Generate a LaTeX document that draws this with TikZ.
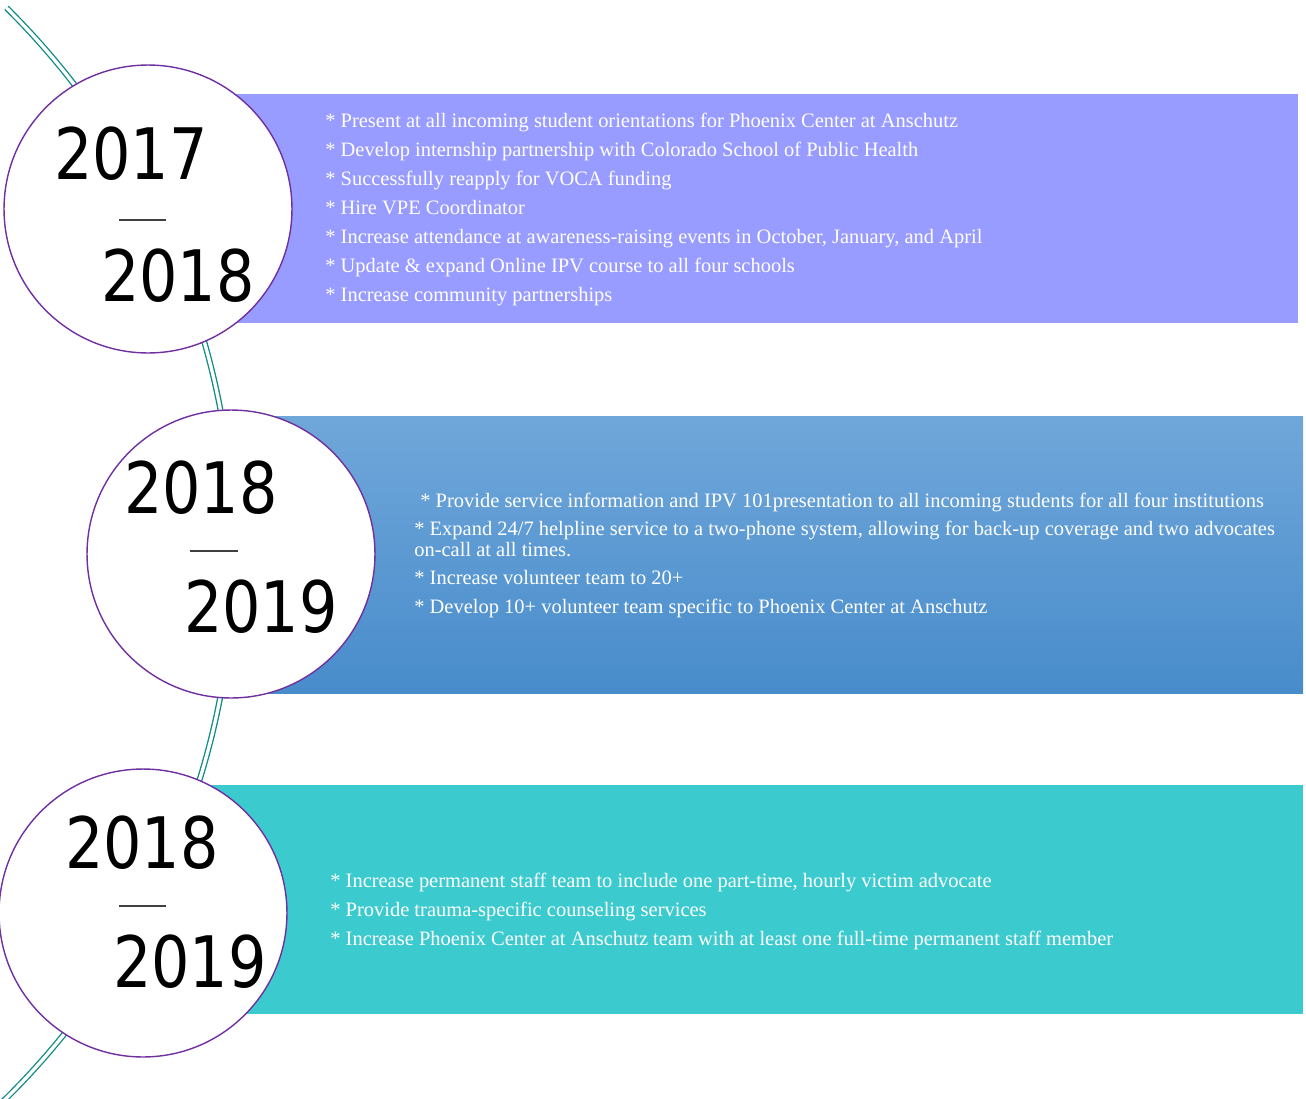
\documentclass[tikz,border=0pt]{standalone}
\usepackage{fontspec}
\setmainfont{Liberation Serif}
\newfontfamily\yearfont{DejaVu Sans}
\usetikzlibrary{positioning}
\definecolor{bandViolet}{HTML}{989BFF}
\definecolor{bandBlueTop}{HTML}{70A7DA}
\definecolor{bandBlueBot}{HTML}{488CCB}
\definecolor{bandTeal}{HTML}{3BCBCF}
\definecolor{ringPurple}{HTML}{7030A0}
\definecolor{lineTeal}{HTML}{0E8A88}

\begin{document}
\begin{tikzpicture}[
  x=0.02cm, y=-0.02cm,
  every node/.style={inner sep=0pt},
  yr/.style={circle,draw=ringPurple,line width=0.8pt,fill=white,minimum size=5.76cm},
  yrtxt/.style={font=\yearfont\fontsize{40.4}{40}\selectfont,text=black},
  item/.style={anchor=base west,text=white,font=\fontsize{11.65}{13}\selectfont},
  tl/.style={draw=lineTeal,line width=0.75pt,double=white,double distance=1.9pt},
  sep/.style={draw=black!75,line width=0.6pt},
]
  \useasboundingbox (0,0) rectangle (1306,1099);

  % bands
  \fill[bandViolet] (232,94) rectangle (1298,323);
  \shade[top color=bandBlueTop,bottom color=bandBlueBot] (265,416) rectangle (1303,693);
  \fill[bandTeal] (200,785) rectangle (1303,1014);

  % timeline
  \begin{scope}
    \clip (0,0) rectangle (1306,1099);
    \draw[tl] (-533,553) ++(-45.3:767) arc[start angle=45.3,end angle=-47,radius=15.34cm];
  \end{scope}

  % years
  \node[yr] (c1) at (148,209) {};
  \node[yr] (c2) at (231,554) {};
  \node[yr] (c3) at (143,913) {};

  \node[yrtxt] (y1a) at (131,154) {\scalebox{0.85}[1]{2017}};
  \node[yrtxt] (y1b) at (178,276) {\scalebox{0.85}[1]{2018}};
  \node[yrtxt] (y2a) at (201,488) {\scalebox{0.85}[1]{2018}};
  \node[yrtxt] (y2b) at (261,607) {\scalebox{0.85}[1]{2019}};
  \node[yrtxt] (y3a) at (142,843) {\scalebox{0.85}[1]{2018}};
  \node[yrtxt] (y3b) at (190,962) {\scalebox{0.85}[1]{2019}};

  \draw[sep] ([shift={(-29,11)}]c1.center) -- ++(47,0);
  \draw[sep] ([shift={(-41,-3)}]c2.center) -- ++(48,0);
  \draw[sep] ([shift={(-24,-7)}]c3.center) -- ++(47,0);

  % goals
  \foreach \t [count=\i from 0] in {
    {* Present at all incoming student orientations for Phoenix Center at Anschutz},
    {* Develop internship partnership with Colorado School of Public Health},
    {* Successfully reapply for VOCA funding},
    {* Hire VPE Coordinator},
    {* Increase attendance at awareness-raising events in October, January, and April},
    {* Update \& expand Online IPV course to all four schools},
    {* Increase community partnerships}}
    \node[item] (g1\i) at (325,127+29*\i) {\t};

  \node[item] (g20) at (420,507) {* Provide service information and IPV 101presentation to all incoming students for all four institutions};
  \node[item] (g21) at (414,535) {* Expand 24/7 helpline service to a two-phone system, allowing for back-up coverage and two advocates};
  \node[item] (g22) at (414,556) {on-call at all times.};
  \node[item] (g23) at (414,584) {* Increase volunteer team to 20+};
  \node[item] (g24) at (414,613) {* Develop 10+ volunteer team specific to Phoenix Center at Anschutz};

  \foreach \t [count=\i from 0] in {
    {* Increase permanent staff team to include one part-time, hourly victim advocate},
    {* Provide trauma-specific counseling services},
    {* Increase Phoenix Center at Anschutz team with at least one full-time permanent staff member}}
    \node[item] (g3\i) at (330,887+29*\i) {\t};
\end{tikzpicture}
\end{document}
